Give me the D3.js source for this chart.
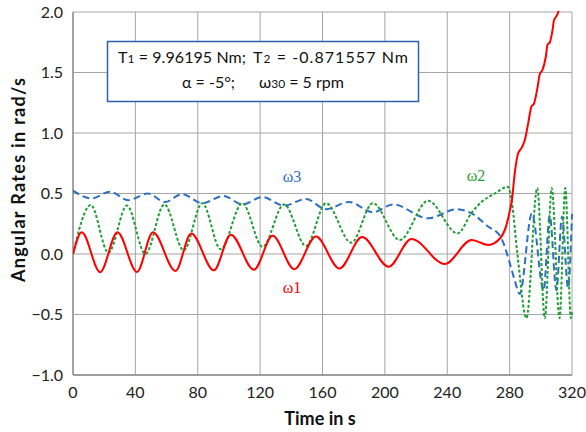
<!DOCTYPE html>
<html>
<head>
<meta charset="utf-8">
<script src="https://cdn.jsdelivr.net/npm/d3@7"></script>
<style>
  body { margin: 0; background: #fff; }
  svg { display: block; }
  .tick-label { font-family: Lato, "Open Sans", sans-serif; font-size: 16px; fill: #222; }
  .axis-title { font-family: Lato, "Open Sans", sans-serif; font-size: 18px; font-weight: bold; fill: #111; }
  .box-text { font-family: Lato, "Open Sans", sans-serif; font-size: 16px; fill: #111; }
  .curve-label { font-family: "Liberation Serif", "DejaVu Serif", serif; font-size: 16px; }
</style>
</head>
<body>
<div id="chart"></div>
<script>
// tick values
var xTicks = [0, 40, 80, 120, 160, 200, 240, 280, 320];
var yTicks = [-1.0, -0.5, 0.0, 0.5, 1.0, 1.5, 2.0];

// omega 1 (red, solid)
var t1 = [0, 5.6, 17.4, 28.5, 41, 51.3, 65.7, 75.8, 90.3, 101.2, 116, 128, 141.9, 155.8, 170.8,
          185.4, 202.4, 217, 238.4, 255.6, 266.4, 273.9, 277.5, 280, 281.5, 283.3, 285.4, 287.6,
          289.7, 291.9, 294, 295.5, 297.6, 299.4, 301, 303.2, 304.3, 305.8, 307.5, 308.4, 309.7,
          311.2, 312.5];
var w1 = [0, 0.18, -0.15, 0.18, -0.148, 0.18, -0.14, 0.17, -0.135, 0.16, -0.13, 0.15, -0.125, 0.145, -0.12,
          0.14, -0.105, 0.125, -0.083, 0.115, 0.075, 0.13, 0.22, 0.35, 0.45, 0.67, 0.83, 0.875,
          0.94, 1.08, 1.22, 1.24, 1.355, 1.49, 1.52, 1.63, 1.73, 1.75, 1.85, 1.93, 1.96,
          2.0, 2.08];

// omega 2 (green, dotted)
var t2 = [0, 11.4, 22.7, 34.6, 46.4, 58.6, 71, 82.9, 94.7, 108.6, 121.5, 135.4, 149.4, 162.3, 178.4,
          192.3, 209.5, 227.7, 246.6, 255.6, 262, 270.5, 279, 281.5, 285, 290.8, 297.7, 302.6,
          307, 312, 315.7, 319.3, 320];
var w2 = [0, 0.405, 0.01, 0.40, 0.0, 0.41, 0.03, 0.42, 0.04, 0.42, 0.06, 0.41, 0.066, 0.42, 0.093,
          0.42, 0.115, 0.44, 0.17, 0.34, 0.43, 0.5, 0.555, 0.42, 0.0, -0.53, 0.545, -0.53,
          0.545, -0.53, 0.545, -0.53, -0.48];

// omega 3 (blue, dashed)
var t3 = [0, 12, 23.8, 35.4, 48, 59, 70, 82.9, 96.6, 108.6, 121.5, 135.4, 149.4, 162.3, 177,
          192.3, 205.2, 227.7, 246, 255.6, 266.4, 273.9, 280, 283.3, 286.5, 294.3, 301.8, 305.7,
          310, 313.6, 317.5, 320];
var w3 = [0.523, 0.46, 0.515, 0.445, 0.50, 0.43, 0.495, 0.42, 0.48, 0.41, 0.47, 0.40, 0.455, 0.37, 0.43,
          0.345, 0.41, 0.295, 0.37, 0.336, 0.225, 0.15, -0.07, -0.22, -0.33, 0.335, -0.3, 0.32,
          -0.3, 0.31, -0.28, 0.33];

var width = 586, height = 432;
var margin = {left: 73, right: 14, top: 12, bottom: 57};

var svg = d3.select("#chart").append("svg")
  .attr("width", width)
  .attr("height", height);

var x = d3.scaleLinear().domain([0, 320]).range([margin.left, width - margin.right]);
var y = d3.scaleLinear().domain([-1, 2]).range([height - margin.bottom, margin.top]);

// grid
svg.append("g").selectAll("line.v")
  .data(xTicks)
  .enter().append("line")
  .attr("x1", function(d) { return x(d); })
  .attr("x2", function(d) { return x(d); })
  .attr("y1", y(-1)).attr("y2", y(2))
  .attr("stroke", "#a6a6a6").attr("stroke-width", 1);

svg.append("g").selectAll("line.h")
  .data(yTicks)
  .enter().append("line")
  .attr("x1", x(0)).attr("x2", x(320))
  .attr("y1", function(d) { return y(d); })
  .attr("y2", function(d) { return y(d); })
  .attr("stroke", "#a6a6a6").attr("stroke-width", 1);

// axes lines
svg.append("line").attr("x1", x(0)).attr("x2", x(0)).attr("y1", y(-1)).attr("y2", y(2))
  .attr("stroke", "#8c8c8c").attr("stroke-width", 1.3);
svg.append("line").attr("x1", x(0)).attr("x2", x(320)).attr("y1", y(-1)).attr("y2", y(-1))
  .attr("stroke", "#8c8c8c").attr("stroke-width", 1.3);

// tick labels
svg.append("g").selectAll("text")
  .data(yTicks)
  .enter().append("text")
  .attr("class", "tick-label")
  .attr("x", x(0) - 10)
  .attr("y", function(d) { return y(d); })
  .attr("dy", "0.35em")
  .attr("text-anchor", "end")
  .text(function(d) { return d3.format(".1f")(d); });

svg.append("g").selectAll("text")
  .data(xTicks)
  .enter().append("text")
  .attr("class", "tick-label")
  .attr("x", function(d) { return x(d); })
  .attr("y", y(-1) + 23)
  .attr("text-anchor", "middle")
  .text(function(d) { return d; });

// axis titles
svg.append("text").attr("class", "axis-title")
  .attr("transform", "translate(25,180) rotate(-90)")
  .attr("text-anchor", "middle")
  .attr("textLength", 204)
  .attr("lengthAdjust", "spacing")
  .text("Angular Rates in rad/s");

svg.append("text").attr("class", "axis-title")
  .attr("x", 320).attr("y", 425)
  .attr("text-anchor", "middle")
  .text("Time in s");

// clip
svg.append("clipPath").attr("id", "plot-clip")
  .append("rect")
  .attr("x", x(0)).attr("y", y(2) - 1)
  .attr("width", x(320) - x(0) + 1).attr("height", y(-1) - y(2) + 1);

var line = d3.line()
  .x(function(d) { return x(d[0]); })
  .y(function(d) { return y(d[1]); })
  .curve(d3.curveMonotoneX);

var series = [
  {t: t3, v: w3, color: "#2e6ec4", dash: "7,4"},
  {t: t2, v: w2, color: "#1f9e36", dash: "3,2"},
  {t: t1, v: w1, color: "#ff0000", dash: null}
];

var lines = svg.append("g").attr("clip-path", "url(#plot-clip)");
series.forEach(function(s) {
  var pts = d3.zip(s.t, s.v);
  lines.append("path")
    .datum(pts)
    .attr("d", line)
    .attr("fill", "none")
    .attr("stroke", s.color)
    .attr("stroke-width", 2)
    .attr("stroke-dasharray", s.dash);
});

// curve labels
svg.append("text").attr("class", "curve-label").attr("fill", "#2e6ec4")
  .attr("x", 292).attr("y", 182).attr("text-anchor", "middle").text("ω3");
svg.append("text").attr("class", "curve-label").attr("fill", "#ff0000")
  .attr("x", 292).attr("y", 293).attr("text-anchor", "middle").text("ω1");
svg.append("text").attr("class", "curve-label").attr("fill", "#1f9e36")
  .attr("x", 476).attr("y", 181).attr("text-anchor", "middle").text("ω2");

// parameter box
svg.append("rect")
  .attr("x", 107.5).attr("y", 41.5)
  .attr("width", 311).attr("height", 60)
  .attr("fill", "#fff")
  .attr("stroke", "#2f5fb0")
  .attr("stroke-width", 1.5);

function boxText(xp, yp, main, sub, rest, len) {
  var t = svg.append("text").attr("class", "box-text").attr("x", xp).attr("y", yp);
  if (len) t.attr("textLength", len).attr("lengthAdjust", "spacing");
  t.append("tspan").text(main);
  t.append("tspan").attr("font-size", "12px").text(sub);
  t.append("tspan").text(rest);
}
boxText(118, 63, "T", "1", " = 9.96195 Nm;", 128);
boxText(253, 63, "T", "2", " = -0.871557 Nm", 155);
svg.append("text").attr("class", "box-text").attr("x", 182).attr("y", 88).text("α = -5°;");
boxText(259, 88, "ω", "30", " = 5 rpm");
</script>
</body>
</html>
